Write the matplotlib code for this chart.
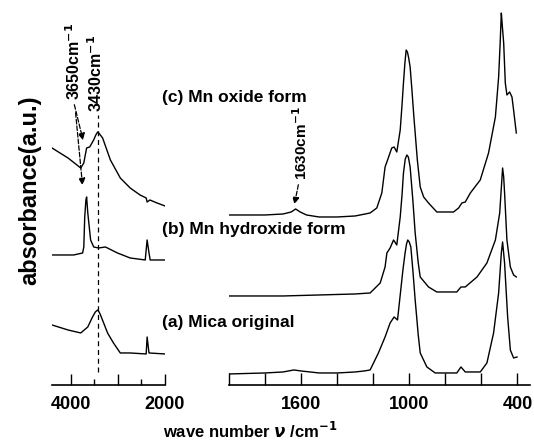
import matplotlib
matplotlib.use("Agg")
import matplotlib.pyplot as plt

plt.rcParams['font.family'] = ['Liberation Sans', 'DejaVu Sans']
plt.rcParams['font.weight'] = 'bold'

# left panel (4400-2000 cm-1), absorbance in arbitrary units
c_left_wn = [4400, 4060, 3790, 3725, 3665, 3600, 3515, 3470, 3430, 3390, 3325, 3160, 2950, 2740, 2530, 2400, 2380,
             2320, 2170, 2000]
c_left_ab = [237, 227, 217, 222, 237, 238, 245, 250, 253, 251, 247, 225, 207, 197, 190, 187, 183,
             185, 182, 179]
b_left_wn = [4400, 3940, 3750, 3725, 3705, 3680, 3665, 3640, 3580, 3515, 3410, 3265, 3010, 2740, 2420, 2400, 2380,
             2340, 2315, 2000]
b_left_ab = [130, 130, 132, 138, 168, 185, 188, 172, 145, 138, 137, 138, 132, 127, 125, 135, 145,
             132, 125, 125]
a_left_wn = [4400, 4060, 3790, 3640, 3540, 3480, 3430, 3400, 3370, 3220, 3095, 2950, 2740, 2400, 2380, 2340, 2000]
a_left_ab = [60, 55, 52, 58, 68, 73, 75, 73, 70, 52, 42, 32, 32, 31, 48, 32, 31]

# right panel (2000-400 cm-1)
c_right_wn = [2000, 1800, 1700, 1655, 1630, 1605, 1570, 1500, 1400, 1300, 1217, 1180, 1152, 1134, 1124, 1097, 1084,
              1069, 1050, 1040, 1032, 1024, 1017, 1010, 1003, 995, 985, 975, 967, 955, 939, 920, 893, 847, 754,
              726, 708, 689, 661, 606, 560, 522, 512, 504, 496, 489, 484, 476, 467, 458, 443, 430, 421, 406]
c_right_ab = [170, 170, 171, 173, 176, 173, 170, 168, 168, 169, 172, 177, 192, 218, 223, 237, 238,
              233, 255, 280, 302, 322, 335, 333, 327, 318, 295, 270, 252, 225, 198, 188, 182, 173, 173,
              177, 182, 183, 192, 205, 232, 268, 290, 308, 340, 372, 360, 342, 302, 290, 293, 288, 275, 252]
b_right_wn = [2000, 1700, 1500, 1300, 1217, 1161, 1134, 1124, 1106, 1087, 1069, 1050, 1040, 1032, 1022, 1013, 1005,
              995, 980, 967, 950, 939, 893, 847, 736, 713, 689, 624, 569, 522, 498, 488, 482, 476, 471, 458,
              439, 421, 406]
b_right_ab = [89, 89, 90, 91, 92, 102, 118, 132, 137, 145, 140, 168, 190, 212, 226, 230, 228,
              218, 185, 152, 122, 108, 98, 93, 93, 98, 98, 108, 122, 145, 172, 200, 217, 208, 192, 145,
              118, 110, 108]
a_right_wn = [2000, 1800, 1700, 1640, 1600, 1500, 1400, 1300, 1250, 1217, 1171, 1134, 1106, 1084, 1065, 1047,
              1035, 1023, 1015, 1008, 1000, 991, 980, 967, 950, 939, 902, 856, 736, 713, 689, 606, 569, 532,
              504, 489, 482, 471, 454, 439, 421, 402]
a_right_ab = [11, 12, 13, 15, 14, 12, 12, 13, 14, 15, 32, 48, 62, 68, 65, 95,
              115, 132, 141, 145, 143, 138, 115, 85, 50, 32, 18, 12, 12, 18, 13, 13, 22, 52,
              92, 132, 143, 122, 68, 35, 27, 28]

left_ticks = [4000, 3000, 2000]
left_minor = [3500, 2500]
left_labels = ['4000', '', '2000']
right_ticks = [2000, 1800, 1600, 1400, 1200, 1000, 800, 600, 400]
right_labels = ['', '', '1600', '', '', '1000', '', '', '400']

fig = plt.figure(figsize=(5.34, 4.43), dpi=100)
ax1 = fig.add_axes([0.0974, 0.131, 0.2116, 0.869])
ax2 = fig.add_axes([0.4288, 0.131, 0.5637, 0.869])

for wn, ab in [(a_left_wn, a_left_ab), (b_left_wn, b_left_ab), (c_left_wn, c_left_ab)]:
    ax1.plot(wn, ab, color='black', lw=1.0, solid_joinstyle='round')
for wn, ab in [(a_right_wn, a_right_ab), (b_right_wn, b_right_ab), (c_right_wn, c_right_ab)]:
    ax2.plot(wn, ab, color='black', lw=1.0, solid_joinstyle='round')

ax1.set_xlim(4400, 2000)
ax2.set_xlim(2000, 330)
for ax in (ax1, ax2):
    ax.set_ylim(0, 385)
    ax.set_yticks([])
    for s in ('top', 'left', 'right'):
        ax.spines[s].set_visible(False)
    ax.spines['bottom'].set_linewidth(1.2)
    ax.patch.set_alpha(0)

ax1.set_xticks(left_ticks, left_labels)
ax1.set_xticks(left_minor, minor=True)
ax1.tick_params(axis='x', which='major', direction='in', length=8, width=1, pad=8, labelsize=13)
ax1.tick_params(axis='x', which='minor', direction='in', length=4.5, width=1)
ax2.set_xticks(right_ticks, right_labels)
ax2.tick_params(axis='x', direction='in', length=9, width=1, pad=8, labelsize=13)

# 3430 dashed guide and 3650 arrows
ax1.plot([3430, 3430], [13, 270], 'k--', lw=0.9, dashes=(4, 3), clip_on=False)
ax1.text(3930, 285, '3650cm$^{-1}$', rotation=90, ha='center', va='bottom', fontsize=11.5)
ax1.text(3480, 273, '3430cm$^{-1}$', rotation=90, ha='center', va='bottom', fontsize=11.5)
ax1.annotate('', xy=(3726, 242), xytext=(3940, 283),
             arrowprops=dict(arrowstyle='-|>', color='black', lw=0.9, ls='--'))
ax1.annotate('', xy=(3747, 197), xytext=(3905, 275),
             arrowprops=dict(arrowstyle='-|>', color='black', lw=0.9, ls='--'))

ax2.text(1600, 205, '1630cm$^{-1}$', rotation=90, ha='center', va='bottom', fontsize=11)
ax2.annotate('', xy=(1640, 178), xytext=(1612, 203),
             arrowprops=dict(arrowstyle='-|>', color='black', lw=0.9, ls='--'))

fig.text(0.303, 0.779, '(c) Mn oxide form', fontsize=12.5, va='center')
fig.text(0.303, 0.483, '(b) Mn hydroxide form', fontsize=12.5, va='center')
fig.text(0.303, 0.273, '(a) Mica original', fontsize=12.5, va='center')

fig.text(0.056, 0.57, 'absorbance(a.u.)', rotation=90, fontsize=17, ha='center', va='center')
fig.text(0.468, 0.027, r'wave number $\nu$ /cm$^{-1}$', fontsize=12, ha='center', va='center')

fig.savefig('out.png', dpi=100)
